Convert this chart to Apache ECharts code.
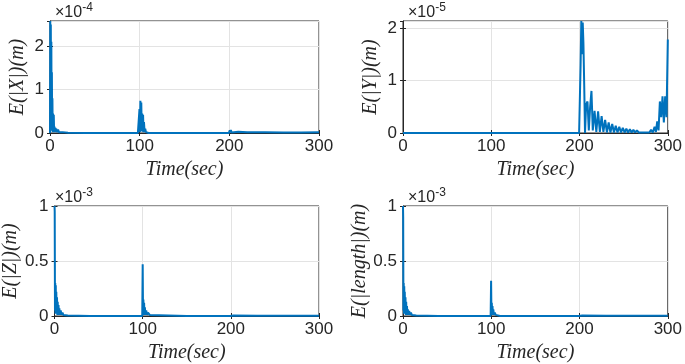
<!DOCTYPE html>
<html>
<head>
<meta charset="utf-8">
<script src="https://cdn.jsdelivr.net/npm/echarts@6/dist/echarts.min.js"></script>
<style>
  html, body { margin: 0; padding: 0; background: #fff; }
  #main { width: 685px; height: 364px; }
</style>
</head>
<body>
<div id="main"></div>
<script>
// E(|X|), values in units of 1e-4 m
var xTime = [0, 0.3, 0.6, 0.9, 1.2, 1.5, 1.8, 2.1, 2.4, 2.7, 3.0, 3.4, 3.8, 4.2, 4.6, 5.0, 5.5, 6, 6.5, 7, 8, 9, 10, 12, 14, 16, 20, 40, 60, 80, 98,
    99.3, 99.8, 100.3, 100.8, 101.3, 101.8, 102.3, 102.8, 103.3, 103.8, 104.3, 104.8, 105.5, 106.2, 107, 108, 110, 130, 160, 190,
    199.5, 200.3, 201, 201.7, 202.5, 203.5, 205, 210, 220, 240, 260, 280, 300];
var xErr = [0, 2.58, 0.1, 2.5, 0.3, 2.1, 0.05, 1.4, 0.1, 0.8, 0.02, 0.45, 0.05, 0.42, 0.02, 0.15, 0.02, 0.12, 0.03, 0.1, 0.02, 0.08, 0.02, 0.04, 0.02, 0.01, 0.005, 0, 0, 0, 0,
    0, 0.55, 0.02, 0.74, 0.05, 0.7, 0.04, 0.45, 0.03, 0.42, 0.02, 0.25, 0.02, 0.1, 0.02, 0.01, 0, 0, 0, 0,
    0, 0.06, 0.01, 0.07, 0.01, 0.05, 0.02, 0.03, 0.02, 0.015, 0.01, 0.01, 0.02];

// E(|Y|), values in units of 1e-5 m
var yTime = [0, 100, 199.5, 200.3, 201.2, 202, 202.8, 203.6, 204.4, 205.3, 206.2, 207.5, 209, 210.5, 212, 213.5, 215, 217, 219, 221, 223, 225, 227, 229, 231, 233, 235,
    237, 239, 241, 243, 245, 247, 249, 251, 253, 255, 257, 259, 261, 263, 265, 267, 269, 271, 273, 275, 277, 279, 281, 283, 285,
    286.5, 288, 289.5, 291, 292.5, 294, 295.5, 297, 298.5, 300];
var yErr = [0, 0, 0, 0, 1.3, 2.13, 1.5, 2.1, 1.7, 0.9, 0, 0.55, 0.6, 0.05, 0.5, 0.8, 0.05, 0.42, 0.02, 0.41, 0.02, 0.32, 0.02, 0.25, 0.01, 0.2, 0.01,
    0.17, 0.01, 0.14, 0.01, 0.12, 0.01, 0.1, 0.01, 0.08, 0.01, 0.07, 0.01, 0.06, 0.01, 0.05, 0.01, 0.04, 0.01, 0.04, 0.01, 0.04, 0.01, 0.06, 0.01, 0.12,
    0.02, 0.22, 0.05, 0.6, 0.3, 0.7, 0.2, 0.7, 0.3, 1.78];

// E(|Z|), values in units of 1e-3 m
var zTime = [0, 0.2, 0.5, 0.8, 1.1, 1.4, 1.7, 2.0, 2.4, 2.8, 3.2, 3.6, 4.0, 4.5, 5.0, 5.5, 6.0, 7, 8, 9, 10, 12, 15, 40, 70,
    99.5, 100, 100.4, 100.8, 101.2, 101.6, 102, 102.5, 103, 104, 105, 106, 108, 110, 150, 199, 200, 201, 203, 230, 270, 300];
var zErr = [1.0, 0.95, 0.05, 0.3, 0.02, 0.28, 0.02, 0.22, 0.02, 0.17, 0.01, 0.13, 0.01, 0.1, 0.01, 0.07, 0.01, 0.05, 0.01, 0.03, 0.01, 0.015, 0.005, 0, 0,
    0, 0.47, 0.02, 0.15, 0.01, 0.12, 0.01, 0.08, 0.01, 0.05, 0.01, 0.03, 0.01, 0, 0, 0, 0.005, 0.01, 0.005, 0.002, 0.002, 0.002];

// E(|length|), values in units of 1e-3 m
var lTime = [0, 0.2, 0.5, 0.8, 1.1, 1.4, 1.7, 2.0, 2.4, 2.8, 3.2, 3.6, 4.0, 4.5, 5.0, 5.5, 6.0, 7, 8, 9, 10, 12, 15, 40, 70,
    99.3, 99.8, 100.2, 100.6, 101, 101.4, 101.8, 102.3, 103, 104, 105, 107, 110, 150, 199, 200, 201, 203, 230, 270, 300];
var lErr = [1.0, 0.9, 0.05, 0.3, 0.02, 0.27, 0.02, 0.22, 0.02, 0.17, 0.01, 0.13, 0.01, 0.09, 0.01, 0.06, 0.01, 0.045, 0.01, 0.03, 0.01, 0.015, 0.005, 0, 0,
    0, 0.32, 0.02, 0.12, 0.01, 0.09, 0.01, 0.06, 0.01, 0.03, 0.01, 0.01, 0, 0, 0, 0.005, 0.008, 0.004, 0.002, 0.002, 0.002];

var panels = [
    {t: xTime, v: xErr, name: 'E(|X|)(m)', exp: '-4', max: 2.58, step: 1, left: 50, top: 21, h: 112},
    {t: yTime, v: yErr, name: 'E(|Y|)(m)', exp: '-5', max: 2.13, step: 1, left: 403, top: 21, h: 112},
    {t: zTime, v: zErr, name: 'E(|Z|)(m)', exp: '-3', max: 1, step: 0.5, left: 50, top: 206, h: 111},
    {t: lTime, v: lErr, name: 'E(|length|)(m)', exp: '-3', max: 1, step: 0.5, left: 403, top: 206, h: 111}
];

var myChart = echarts.init(document.getElementById('main'));
var axisCol = '#262626';
var sans = 'Liberation Sans, Arial, sans-serif';
var labelFont = {color: axisCol, fontSize: 17, fontFamily: sans};
var nameFont = {color: axisCol, fontSize: 20, fontStyle: 'italic', fontFamily: 'Liberation Serif, DejaVu Serif, serif'};

var grid = [], xAxis = [], yAxis = [], series = [], title = [];
panels.forEach(function (p, i) {
    grid.push({left: p.left, top: p.top, width: 269, height: p.h,
        show: true, borderColor: axisCol, borderWidth: 1, backgroundColor: '#fff'});
    xAxis.push({
        type: 'value', gridIndex: i, min: 0, max: 300, interval: 100,
        name: 'Time(sec)', nameLocation: 'middle', nameGap: 27, nameTextStyle: nameFont,
        axisLine: {show: true, lineStyle: {color: axisCol}},
        axisTick: {inside: true, length: 3, lineStyle: {color: axisCol}},
        axisLabel: Object.assign({margin: 5}, labelFont),
        splitLine: {show: true, lineStyle: {color: '#e3e3e3'}}
    });
    xAxis.push({
        type: 'value', gridIndex: i, min: 0, max: 300, interval: 100, position: 'top',
        axisLine: {show: false}, axisTick: {inside: true, length: 3, lineStyle: {color: axisCol}},
        axisLabel: {show: false}, splitLine: {show: false}
    });
    yAxis.push({
        type: 'value', gridIndex: i, min: 0, max: p.max, interval: p.step,
        name: p.name, nameLocation: 'middle', nameGap: 22, nameTextStyle: nameFont,
        axisLine: {show: true, lineStyle: {color: axisCol}},
        axisTick: {inside: true, length: 3, lineStyle: {color: axisCol}},
        axisLabel: Object.assign({margin: 6, showMaxLabel: p.max % p.step === 0}, labelFont),
        splitLine: {show: true, lineStyle: {color: '#e3e3e3'}}
    });
    yAxis.push({
        type: 'value', gridIndex: i, min: 0, max: p.max, interval: p.step, position: 'right',
        axisLine: {show: false}, axisTick: {inside: true, length: 3, lineStyle: {color: axisCol}},
        axisLabel: {show: false}, splitLine: {show: false}
    });
    series.push({
        type: 'line', xAxisIndex: 2 * i, yAxisIndex: 2 * i, showSymbol: false,
        data: p.t.map(function (t, k) { return [t, p.v[k]]; }),
        lineStyle: {color: '#0072BD', width: 2}, itemStyle: {color: '#0072BD'},
        clip: true, animation: false
    });
    title.push({
        left: p.left, top: p.top - 24,
        text: '{a|\u00d710}{b|' + p.exp + '}',
        textStyle: {rich: {
            a: {fontSize: 16, fontWeight: 'normal', color: axisCol, fontFamily: sans},
            b: {fontSize: 12, fontWeight: 'normal', color: axisCol, fontFamily: sans, padding: [0, 0, 10, 0]}
        }}
    });
});

myChart.setOption({
    animation: false,
    title: title,
    grid: grid,
    xAxis: xAxis,
    yAxis: yAxis,
    series: series
});
</script>
</body>
</html>
